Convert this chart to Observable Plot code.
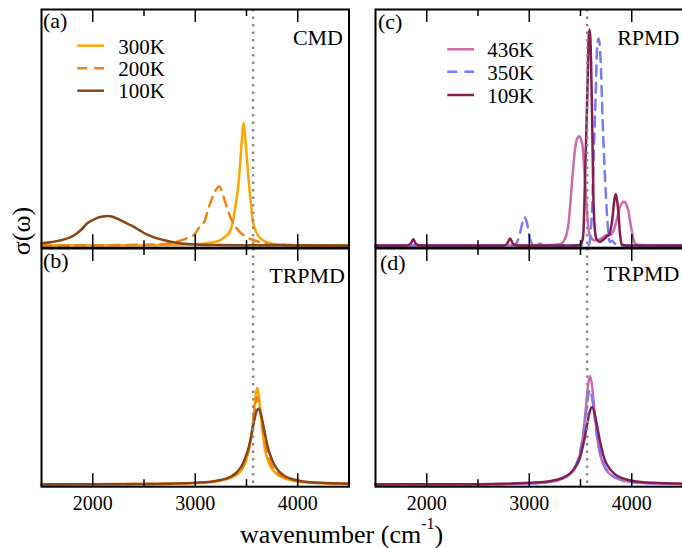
<!DOCTYPE html>
<html><head><meta charset="utf-8">
<script src="https://cdn.jsdelivr.net/npm/d3@7"></script>
<script src="https://cdn.jsdelivr.net/npm/@observablehq/plot@0.6"></script>
<style>
body{margin:0;background:#fff;}
#wrap{position:relative;width:682px;height:548px;overflow:hidden;background:#fff;font-family:"Liberation Serif",serif;}
#wrap text{font-family:"Liberation Serif",serif;}
</style></head><body><div id="wrap"></div>
<script>
// ---------- data (wavenumber cm^-1, sigma in % of panel height) ----------
const majorTicks = [2000, 3000, 4000];
const minorTicks = [2500, 3500];
const refLine = [3565];
const tempsLeft = ["300K", "200K", "100K"];
const tempsRight = ["436K", "350K", "109K"];
const panelLabels = ["(a)", "(b)", "(c)", "(d)"];
const methods = ["CMD", "TRPMD", "RPMD", "TRPMD"];

const a300 = [[1500,0],[2000,0.1],[2500,0.15],[2900,0.3],[3000,0.5],[3100,0.9],[3200,1.6],[3250,2.4],[3282,3.4],[3310,4.3],[3330,5.3],[3350,7.2],[3363,9.3],[3380,13],[3396,18],[3422,26],[3440,36],[3455,45],[3471,52],[3485,47],[3500,39],[3513,32],[3526,25],[3542,18],[3559,11],[3575,8],[3591,6],[3620,3.8],[3657,2.3],[3700,1.3],[3770,0.6],[3900,0.2],[4100,0.05],[4500,0]];
const a200 = [[1500,0],[2000,0.1],[2600,0.4],[2750,1.0],[2850,2.0],[2891,2.6],[2950,3.6],[2989,4.5],[3037,7.5],[3086,9.8],[3135,16.6],[3168,20.5],[3200,23.5],[3233,25],[3260,23],[3281,20],[3310,16],[3330,13.5],[3347,11.5],[3379,9],[3428,6],[3470,4.5],[3510,3.3],[3591,2],[3672,0.9],[3800,0.4],[4000,0.15],[4500,0]];
const a100 = [[1500,0.9],[1600,1.5],[1700,2.3],[1751,3.0],[1800,3.9],[1850,5.3],[1900,7.2],[1946,9.4],[2000,10.8],[2050,11.8],[2100,12.3],[2148,12.5],[2200,12.1],[2250,11.2],[2300,10.1],[2350,9.0],[2402,7.9],[2450,6.6],[2500,5.3],[2550,4.3],[2630,3.0],[2700,2.2],[2800,1.3],[2924,0.6],[3000,0.4],[3200,0.2],[3600,0.1],[4500,0]];

const b300 = [[1500,0.05],[2000,0.1],[2500,0.2],[2800,0.35],[3000,0.6],[3200,1.3],[3300,2.2],[3400,4.0],[3450,6.0],[3490,9.5],[3520,14],[3545,20],[3560,25],[3575,31.5],[3590,38],[3603,41],[3615,39],[3630,33.5],[3645,27],[3660,21],[3680,15],[3710,10],[3750,6.5],[3800,4.2],[3900,2.2],[4000,1.3],[4200,0.6],[4500,0.3]];
const b200 = [[1500,0.05],[2000,0.1],[2500,0.2],[2800,0.4],[3000,0.65],[3200,1.4],[3300,2.4],[3400,4.5],[3450,6.5],[3490,10],[3520,14.5],[3545,20],[3565,26],[3585,33],[3605,37],[3625,34],[3645,28],[3665,22],[3690,16],[3720,11],[3760,7],[3810,4.5],[3900,2.5],[4000,1.4],[4200,0.65],[4500,0.3]];
const b100 = [[1500,0.05],[2000,0.1],[2500,0.2],[2800,0.4],[3000,0.7],[3200,1.5],[3315,2.7],[3365,3.8],[3415,5.6],[3465,8.9],[3495,12.1],[3523,16],[3540,19.3],[3565,24.8],[3590,29.9],[3615,32.1],[3640,29.9],[3665,24.8],[3690,19.3],[3707,16],[3735,12.1],[3765,8.9],[3815,5.6],[3865,3.8],[3915,2.7],[4015,1.6],[4215,0.7],[4500,0.35]];

const c436 = [[1500,0],[3000,0],[3200,0.2],[3280,0.5],[3317,0.9],[3345,2.5],[3366,5],[3385,10],[3398,16.4],[3412,24],[3424,30.5],[3446,40.4],[3465,45],[3488,46.3],[3505,45],[3521,41.8],[3533,35],[3544,27.7],[3560,16.4],[3576,7.9],[3600,3.5],[3641,2.2],[3680,2.5],[3722,3.5],[3758,4.5],[3790,4.5],[3820,6],[3853,10.7],[3885,16.4],[3927,18.5],[3950,17],[3966,15],[3985,10],[3999,6.5],[4015,3],[4032,0.85],[4080,0.2],[4500,0]];
const c350 = [[1500,0],[2800,0],[2840,0],[2870,0.6],[2895,3],[2917,6.5],[2935,10],[2955,12],[2975,10],[2991,6.5],[3010,2.5],[3030,0.5],[3060,0],[3085,0.3],[3105,0.8],[3125,0.3],[3150,0],[3560,0],[3584,0.3],[3598,5],[3614,16.4],[3630,39],[3650,67],[3662,84],[3677,87.7],[3697,78],[3716,53],[3739,29],[3762,10.7],[3788,1.5],[3810,2],[3830,1],[3860,0.3],[3900,0],[4500,0]];
const c109 = [[1500,0],[1800,0],[1840,0.6],[1869,2.6],[1895,0.6],[1930,0],[2750,0],[2785,0.8],[2812,3.0],[2840,0.8],[2880,0],[3450,0],[3496,0.3],[3515,1.5],[3528,5],[3544,28],[3561,55],[3571,72],[3578,86],[3586,91.5],[3596,88],[3603,78],[3613,55],[3626,20],[3642,6],[3659,2.5],[3689,1.5],[3715,2.2],[3738,3],[3760,4],[3777,4.4],[3795,7],[3809,10.7],[3835,20.6],[3845,21.7],[3857,19],[3868,15],[3885,5],[3901,0.5],[3950,0],[4500,0]];

const d436 = [[1500,0.05],[2000,0.08],[2500,0.12],[2800,0.25],[3000,0.45],[3193,1.1],[3293,1.9],[3393,4.2],[3433,6.0],[3473,9.6],[3503,14.4],[3531,23],[3553,32.7],[3573,41.7],[3593,46],[3613,41.7],[3633,32.7],[3655,23],[3683,14.4],[3713,9.6],[3753,6.0],[3793,4.2],[3893,1.9],[3993,1.1],[4193,0.5],[4500,0.25]];
const d350 = [[1500,0.05],[2000,0.08],[2500,0.12],[2800,0.25],[3000,0.45],[3193,1.2],[3293,2.1],[3393,4.4],[3453,8],[3493,13.2],[3523,20],[3553,30.1],[3573,37],[3593,40],[3613,37],[3633,30.1],[3663,20],[3693,13.2],[3733,8],[3793,4.4],[3893,2.1],[3993,1.2],[4193,0.5],[4500,0.25]];
const d109 = [[1500,0.05],[2000,0.08],[2500,0.15],[2800,0.3],[3000,0.7],[3212,1.5],[3312,2.6],[3362,3.6],[3412,5.3],[3462,8.2],[3492,11.0],[3524,16.4],[3537,19.0],[3562,24.8],[3587,30.3],[3612,32.8],[3637,30.3],[3662,24.8],[3687,19.0],[3700,16.4],[3732,11.0],[3762,8.2],[3812,5.3],[3862,3.6],[3912,2.6],[4012,1.5],[4212,0.7],[4500,0.35]];

const colLeft = ["#ffa500", "#f2820f", "#8b4513"];
const colRight = ["#cf6aa9", "#7a7aff", "#851e4e"];
const dashes = [null, "10,7", null];

// ---------- layout ----------
const wrap = document.getElementById("wrap");
const FW = 307.5, FH = 238.2;
const frames = {a: [40.75, 9.3], b: [40.75, 247.5], c: [375.45, 9.3], d: [375.45, 247.5]};
const rows = pairs => pairs.map(([wn, s]) => ({wn, s}));
const serif = "'Liberation Serif', serif";

function panel(key, datasets, colors, withLabels) {
  const [fl, ft] = frames[key];
  const m = 3, mb = withLabels ? 45 : 3;
  const marks = [];
  datasets.forEach((d, i) => marks.push(Plot.line(rows(d), {
    x: "wn", y: "s", stroke: colors[i], strokeWidth: 2.5,
    strokeDasharray: dashes[i], curve: "monotone-x", strokeLinejoin: "round"
  })));
  marks.push(Plot.ruleX(refLine, {stroke: "#8c8c8c", strokeWidth: 2.5, strokeDasharray: "2.5,5"}));
  marks.push(Plot.tickX(majorTicks, {stroke: "#000", strokeWidth: 1.5, insetBottom: FH - 13}));
  marks.push(Plot.tickX(majorTicks, {stroke: "#000", strokeWidth: 1.5, insetTop: FH - 13}));
  marks.push(Plot.tickX(minorTicks, {stroke: "#000", strokeWidth: 1.5, insetBottom: FH - 7}));
  marks.push(Plot.tickX(minorTicks, {stroke: "#000", strokeWidth: 1.5, insetTop: FH - 7}));
  marks.push(Plot.frame({stroke: "#000", strokeWidth: 2}));
  if (withLabels) marks.push(Plot.axisX(majorTicks, {tickSize: 0, tickPadding: 9, fontSize: 20, label: null, tickFormat: d => String(d)}));
  const svg = Plot.plot({
    width: m + FW + m, height: m + FH + mb,
    marginLeft: m, marginRight: m, marginTop: m, marginBottom: mb,
    x: {domain: [1500, 4500], axis: withLabels ? undefined : null, label: null},
    y: {domain: [-0.93, 100], axis: null},
    style: {background: "transparent", fontFamily: serif, overflow: "visible", color: "#000"},
    marks
  });
  svg.style.position = "absolute";
  svg.style.left = (fl - m) + "px";
  svg.style.top = (ft - m) + "px";
  wrap.appendChild(svg);
}

panel("a", [a300, a200, a100], colLeft, false);
panel("b", [b300, b200, b100], colLeft, true);
panel("c", [c436, c350, c109], colRight, false);
panel("d", [d436, d350, d109], colRight, true);

// ---------- text overlay ----------
const ff = `font-family="Liberation Serif, serif"`;
function legend(names, colors, x1, x2, tx, ly, ty) {
  return names.map((n, i) =>
    `<line x1="${x1}" x2="${x2}" y1="${ly[i]}" y2="${ly[i]}" stroke="${colors[i]}" stroke-width="2.5" ${dashes[i] ? `stroke-dasharray="${dashes[i]}"` : ""}/>` +
    `<text x="${tx}" y="${ty[i]}" font-size="21" ${ff}>${n}</text>`).join("");
}
const ov = `<svg xmlns="http://www.w3.org/2000/svg" width="682" height="548" style="position:absolute;left:0;top:0" fill="#000">
<text x="21" y="231" transform="rotate(-90 21 231)" text-anchor="middle" dominant-baseline="central" font-size="26" ${ff}>σ(ω)</text>
<text x="240" y="543" font-size="26" ${ff}>wavenumber (cm<tspan font-size="16" dy="-14">-1</tspan><tspan dy="14">)</tspan></text>
<text x="43" y="28" font-size="22" ${ff}>${panelLabels[0]}</text>
<text x="43" y="268" font-size="22" ${ff}>${panelLabels[1]}</text>
<text x="378" y="29" font-size="22" ${ff}>${panelLabels[2]}</text>
<text x="380" y="269.5" font-size="22" ${ff}>${panelLabels[3]}</text>
<text x="343" y="45" font-size="22" text-anchor="end" ${ff}>${methods[0]}</text>
<text x="345" y="282.5" font-size="22" text-anchor="end" ${ff}>${methods[1]}</text>
<text x="679.5" y="45" font-size="22" text-anchor="end" ${ff}>${methods[2]}</text>
<text x="679.5" y="280.7" font-size="22" text-anchor="end" ${ff}>${methods[3]}</text>
${legend(tempsLeft, colLeft, 77.3, 104, 118.3, [45.7, 68.3, 90.7], [54.3, 76, 97.7])}
${legend(tempsRight, colRight, 447.3, 474, 487.3, [49.3, 71.7, 95], [56.7, 79.5, 102.5])}
</svg>`;
wrap.insertAdjacentHTML("beforeend", ov);
</script></body></html>
